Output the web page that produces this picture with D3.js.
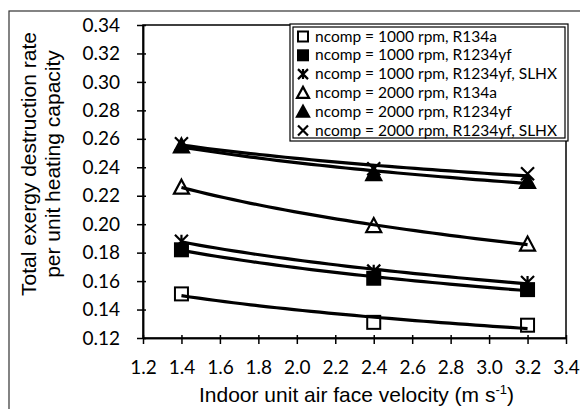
<!DOCTYPE html>
<html>
<head>
<meta charset="utf-8">
<script src="https://cdn.jsdelivr.net/npm/d3@7"></script>
<style>
  body { margin: 0; background: #fff; }
  svg { display: block; }
</style>
</head>
<body>
<div id="chart"></div>
<script>
  // data
  const velocity = [1.4, 2.4, 3.2];
  const r134a_1000 = [0.151, 0.131, 0.129];
  const r1234yf_1000 = [0.182, 0.162, 0.154];
  const r1234yf_slhx_1000 = [0.188, 0.167, 0.159];
  const r134a_2000 = [0.226, 0.199, 0.186];
  const r1234yf_2000 = [0.255, 0.2355, 0.230];
  const r1234yf_slhx_2000 = [0.2565, 0.239, 0.2355];

  const seriesNames = [
    "ncomp = 1000 rpm, R134a",
    "ncomp = 1000 rpm, R1234yf",
    "ncomp = 1000 rpm, R1234yf, SLHX",
    "ncomp = 2000 rpm, R134a",
    "ncomp = 2000 rpm, R1234yf",
    "ncomp = 2000 rpm, R1234yf, SLHX"
  ];
  const seriesMarkers = ["squareOpen", "square", "asterisk", "triangleOpen", "triangle", "cross"];
  const xTicks = [1.2, 1.4, 1.6, 1.8, 2.0, 2.2, 2.4, 2.6, 2.8, 3.0, 3.2, 3.4];
  const yTicks = [0.12, 0.14, 0.16, 0.18, 0.20, 0.22, 0.24, 0.26, 0.28, 0.30, 0.32, 0.34];

  const seriesValues = [r134a_1000, r1234yf_1000, r1234yf_slhx_1000,
                        r134a_2000, r1234yf_2000, r1234yf_slhx_2000];

  //=========================================================================
  // Set Dimensions
  //=========================================================================

  const width = 580, height = 409;
  const plot = { left: 143, right: 566, top: 25, bottom: 338 };
  const tickFont = "Lato, 'Open Sans', sans-serif";
  const titleFont = "'Liberation Sans', Arial, sans-serif";

  const svg = d3.select("#chart")
    .append("svg")
    .attr("width", width)
    .attr("height", height);

  // outer chart frame
  svg.append("rect")
    .attr("x", 9).attr("y", 11)
    .attr("width", 620).attr("height", 420)
    .attr("fill", "none")
    .attr("stroke", "#333")
    .attr("stroke-width", 1.2);

  //=========================================================================
  // Scales
  //=========================================================================

  const x = d3.scaleLinear().domain([1.2, 3.4]).range([plot.left, plot.right]);
  const y = d3.scaleLinear().domain([0.12, 0.34]).range([plot.bottom, plot.top]);

  // plot area border
  svg.append("rect")
    .attr("x", plot.left).attr("y", plot.top)
    .attr("width", plot.right - plot.left)
    .attr("height", plot.bottom - plot.top)
    .attr("fill", "none")
    .attr("stroke", "#000")
    .attr("stroke-width", 1.5);

  //=========================================================================
  // Axes
  //=========================================================================

  function style_axis(g) {
    g.select(".domain").attr("stroke", "#000").attr("stroke-width", 1.5);
    g.selectAll(".tick line").attr("stroke", "#000").attr("stroke-width", 1.5);
    g.selectAll(".tick text")
      .attr("fill", "#000")
      .style("font-family", tickFont)
      .style("font-size", "19px");
  }

  svg.append("g")
    .attr("transform", `translate(0,${plot.bottom})`)
    .call(d3.axisBottom(x).tickValues(xTicks).tickSize(6).tickSizeOuter(0)
      .tickPadding(17).tickFormat(d3.format(".1f")))
    .call(style_axis);

  // inner half of crossing ticks
  svg.append("g")
    .attr("transform", `translate(0,${plot.bottom})`)
    .call(d3.axisBottom(x).tickValues(xTicks).tickSize(-3).tickSizeOuter(0).tickFormat(""))
    .call(style_axis);

  svg.append("g")
    .attr("transform", `translate(${plot.left},0)`)
    .call(d3.axisLeft(y).tickValues(yTicks).tickSize(6).tickSizeOuter(0)
      .tickPadding(17).tickFormat(d3.format(".2f")))
    .call(style_axis);

  svg.append("g")
    .attr("transform", `translate(${plot.left},0)`)
    .call(d3.axisLeft(y).tickValues(yTicks).tickSize(-3).tickSizeOuter(0).tickFormat(""))
    .call(style_axis);

  // axis titles
  const xTitle = svg.append("text")
    .attr("x", (plot.left + plot.right) / 2 + 2)
    .attr("y", 402)
    .attr("text-anchor", "middle")
    .style("font-family", titleFont)
    .style("font-size", "21px")
    .text("Indoor unit air face velocity (m s");
  xTitle.append("tspan").attr("dy", -8).style("font-size", "13px").text("-1");
  xTitle.append("tspan").attr("dy", 8).text(")");

  const yTitleLines = ["Total exergy destruction rate", "per unit heating capacity"];
  svg.selectAll("text.ytitle")
    .data(yTitleLines)
    .enter()
    .append("text")
    .attr("class", "ytitle")
    .attr("transform", (d, i) => `translate(${36 + i * 24},164)rotate(-90)`)
    .attr("text-anchor", "middle")
    .style("font-family", titleFont)
    .style("font-size", "21px")
    .text(d => d);

  //=========================================================================
  // Markers
  //=========================================================================

  function draw_marker(g, type, cx, cy, s) {
    const h = s / 2;
    if (type === "squareOpen" || type === "square") {
      g.append("rect")
        .attr("x", cx - h).attr("y", cy - h)
        .attr("width", s).attr("height", s)
        .attr("fill", type === "square" ? "#000" : "#fff")
        .attr("stroke", "#000").attr("stroke-width", 2);
    } else if (type === "triangleOpen" || type === "triangle") {
      g.append("path")
        .attr("d", `M${cx},${cy - h - 1}L${cx + h + 1},${cy + h}L${cx - h - 1},${cy + h}Z`)
        .attr("fill", type === "triangle" ? "#000" : "#fff")
        .attr("stroke", "#000").attr("stroke-width", 2.2)
        .attr("stroke-linejoin", "miter");
    } else if (type === "cross") {
      g.append("path")
        .attr("d", `M${cx - h},${cy - h}L${cx + h},${cy + h}M${cx + h},${cy - h}L${cx - h},${cy + h}`)
        .attr("stroke", "#000").attr("stroke-width", 2.2);
    } else if (type === "asterisk") {
      g.append("path")
        .attr("d", `M${cx - h},${cy - h}L${cx + h},${cy + h}M${cx + h},${cy - h}L${cx - h},${cy + h}M${cx},${cy - h}L${cx},${cy + h}`)
        .attr("stroke", "#000").attr("stroke-width", 2.2);
    }
  }

  const gMarkers = svg.append("g");
  seriesValues.forEach((vals, si) => {
    vals.forEach((v, i) => draw_marker(gMarkers, seriesMarkers[si], x(velocity[i]), y(v), 13));
  });

  //=========================================================================
  // Logarithmic trendlines (least squares on the read values)
  //=========================================================================

  function log_fit(xs, ys) {
    const lx = xs.map(Math.log);
    const mx = d3.mean(lx), my = d3.mean(ys);
    const sxy = d3.sum(lx, (d, i) => (d - mx) * (ys[i] - my));
    const sxx = d3.sum(lx, d => (d - mx) * (d - mx));
    const a = sxy / sxx;
    return v => a * Math.log(v) + (my - a * mx);
  }

  const line = d3.line().x(d => x(d[0])).y(d => y(d[1]));
  const xSamples = d3.range(0, 41).map(i => velocity[0] + (velocity[2] - velocity[0]) * i / 40);

  seriesValues.forEach(vals => {
    const f = log_fit(velocity, vals);
    svg.append("path")
      .attr("d", line(xSamples.map(v => [v, f(v)])))
      .attr("fill", "none")
      .attr("stroke", "#000")
      .attr("stroke-width", 3.2);
  });

  //=========================================================================
  // Legend
  //=========================================================================

  const legend = svg.append("g");
  legend.append("rect")
    .attr("x", 290).attr("y", 24).attr("width", 278).attr("height", 117)
    .attr("fill", "#fff").attr("stroke", "#000").attr("stroke-width", 1.2);
  legend.append("rect")
    .attr("x", 293).attr("y", 27).attr("width", 272).attr("height", 111)
    .attr("fill", "none").attr("stroke", "#000").attr("stroke-width", 1.2);

  seriesNames.forEach((name, i) => {
    const cy = 36.5 + i * 18.8;
    draw_marker(legend, seriesMarkers[i], 303, cy, 10);
    legend.append("text")
      .attr("x", 315)
      .attr("y", cy + 5)
      .style("font-family", tickFont)
      .style("font-size", "15.5px")
      .text(name);
  });
</script>
</body>
</html>
